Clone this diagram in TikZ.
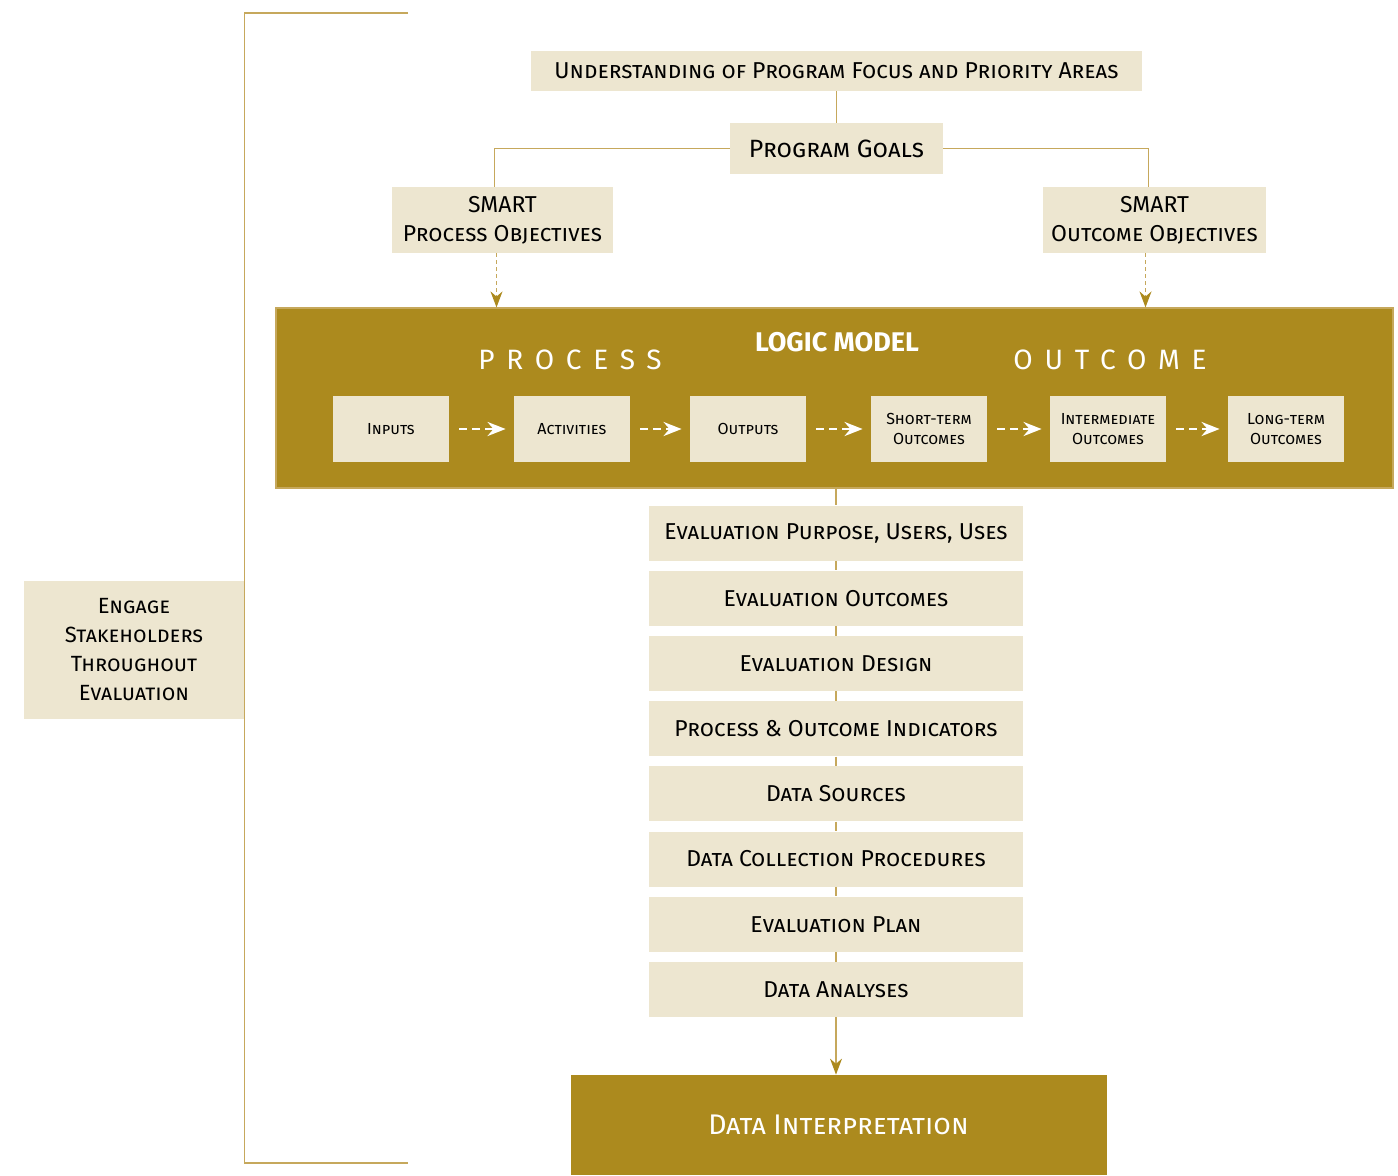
\documentclass[tikz,border=0pt]{standalone}
\usepackage{fontspec}
\setmainfont{Fira Sans}
\usetikzlibrary{positioning,arrows.meta}
\definecolor{lmgold}{RGB}{172,138,30}
\definecolor{lmcream}{RGB}{237,230,208}
\definecolor{lmline}{RGB}{198,168,92}

\begin{document}
\begin{tikzpicture}[x=0.5pt, y=-0.5pt]
    \tikzstyle{bnode} = [fill=lmcream, inner sep=0pt, align=center, text=black, font=\fontsize{11.5}{13.5}\selectfont\scshape]
    \tikzstyle{snode} = [bnode, minimum width=58pt, minimum height=33pt, font=\fontsize{8}{10}\selectfont\scshape]
    \tikzstyle{enode} = [bnode, minimum width=187pt, minimum height=27.5pt]
    \tikzstyle{gnode} = [fill=lmgold, inner sep=0pt, align=center, text=white]
    \tikzstyle{wlbl} = [text=white, inner sep=0pt, font=\fontsize{14}{16}\selectfont\addfontfeature{LetterSpace=42}]
    \tikzstyle{tline} = [draw=lmline, line width=0.6pt]
    \tikzstyle{darrow} = [tline, dash pattern=on 2pt off 1.5pt, -{Stealth[length=8pt, width=6pt, fill=lmgold, color=lmgold]}]
    \tikzstyle{warrow} = [draw=white, line width=1.4pt, dash pattern=on 4pt off 2.5pt, shorten <=5pt, shorten >=4pt, -{Stealth[length=9pt, width=7pt]}]
    \useasboundingbox (0,0) rectangle (1398,1175);

    % program focus and goals
    \node[bnode, minimum width=305.5pt, minimum height=20pt] (focus) at (836.5,71) {Understanding of Program Focus and Priority Areas};
    \node[bnode, minimum width=106.5pt, minimum height=25.5pt, font=\fontsize{12.5}{14.5}\selectfont\scshape] (goals) at (836.5,148.5) {Program Goals};
    \node[bnode, minimum width=110.5pt, minimum height=33pt, font=\fontsize{11.5}{14.5}\selectfont] (sproc) at (502.5,220) {SMART\\\scshape Process Objectives};
    \node[bnode, minimum width=111.5pt, minimum height=33pt, font=\fontsize{11.5}{14.5}\selectfont] (sout) at (1154.5,220) {SMART\\\scshape Outcome Objectives};

    \draw[tline] (focus) -- (goals);
    \draw[tline] (goals.west) -| ([xshift=-4pt]sproc.north);
    \draw[tline] (goals.east) -| ([xshift=-3pt]sout.north);

    % logic model
    \node[gnode, draw=lmline, line width=0.6pt, minimum width=558.5pt, minimum height=90pt] (lm) at (834.5,398) {};
    \node[text=white, inner sep=0pt, font=\fontsize{13.5}{15}\selectfont\bfseries] (lmt) at (837,342) {LOGIC MODEL};
    \node[wlbl] (proc) at (570,360) {PROCESS};
    \node[wlbl] (outc) at (1110,360) {OUTCOME};

    \node[snode] (in1) at (391,429) {Inputs};
    \node[snode] (in2) at (572,429) {Activities};
    \node[snode] (in3) at (748,429) {Outputs};
    \node[snode] (in4) at (929,429) {Short-term\\Outcomes};
    \node[snode] (in5) at (1108,429) {Intermediate\\Outcomes};
    \node[snode] (in6) at (1286,429) {Long-term\\Outcomes};

    \draw[warrow] (in1) -- (in2);
    \draw[warrow] (in2) -- (in3);
    \draw[warrow] (in3) -- (in4);
    \draw[warrow] (in4) -- (in5);
    \draw[warrow] (in5) -- (in6);

    \draw[darrow] ([xshift=-3pt]sproc.south) -- ([xshift=-3pt]sproc.south |- lm.north);
    \draw[darrow] ([xshift=-4.5pt]sout.south) -- ([xshift=-4.5pt]sout.south |- lm.north);

    % evaluation steps
    \node[enode] (e1) at (836,533) {Evaluation Purpose, Users, Uses};
    \node[enode, below=4.7pt of e1] (e2) {Evaluation Outcomes};
    \node[enode, below=4.7pt of e2] (e3) {Evaluation Design};
    \node[enode, below=4.7pt of e3] (e4) {Process \& Outcome Indicators};
    \node[enode, below=4.7pt of e4] (e5) {Data Sources};
    \node[enode, below=4.7pt of e5] (e6) {Data Collection Procedures};
    \node[enode, below=4.7pt of e6] (e7) {Evaluation Plan};
    \node[enode, below=4.7pt of e7] (e8) {Data Analyses};

    \draw[tline] (lm.south -| e1.north) -- (e1);
    \foreach \a/\b in {e1/e2, e2/e3, e3/e4, e4/e5, e5/e6, e6/e7, e7/e8}
      \draw[tline] (\a) -- (\b);

    \node[gnode, minimum width=268pt, minimum height=50pt, font=\fontsize{14.2}{16}\selectfont\scshape] (interp) at (838.5,1125) {Data Interpretation};
    \draw[tline, -{Stealth[length=8pt, width=6pt, fill=lmgold, color=lmgold]}] (e8) -- (e8 |- interp.north);

    % stakeholders bracket
    \node[bnode, minimum width=110pt, minimum height=69pt, font=\fontsize{11}{14.5}\selectfont\scshape] (engage) at (134,650) {Engage\\Stakeholders\\Throughout\\Evaluation};
    \coordinate (btop) at (408,13);
    \coordinate (bbot) at (408,1163);
    \draw[tline] (btop) -- (engage.east |- btop) -- (engage.east |- bbot) -- (bbot);
\end{tikzpicture}
\end{document}
